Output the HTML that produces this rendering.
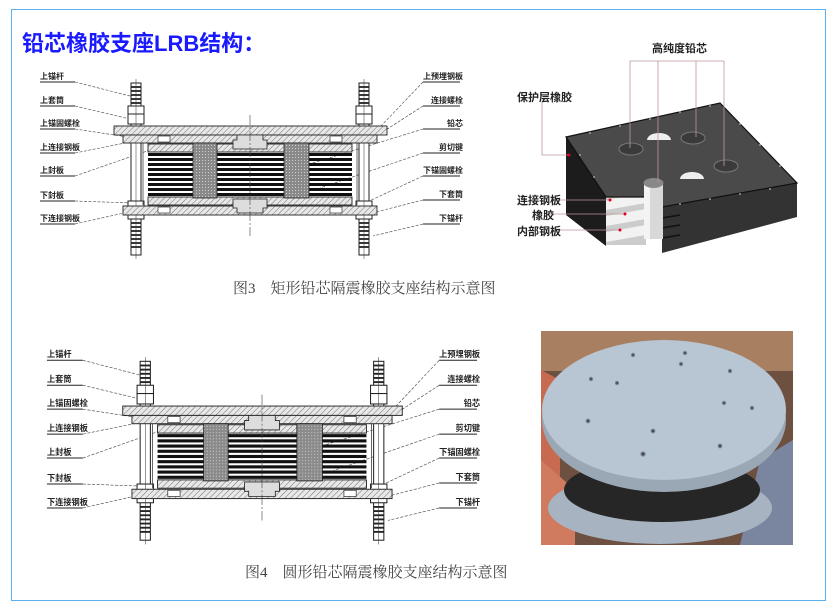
<!DOCTYPE html>
<html><head><meta charset="utf-8"><style>
html,body{margin:0;padding:0;background:#fff;}
svg{display:block;}
text{font-family:"Liberation Sans","Noto Sans CJK SC",sans-serif;}
.lb{font-size:8px;font-weight:bold;fill:#222;}
.cap{font-family:"Liberation Serif","Noto Serif CJK SC",serif;font-size:15px;fill:#444;}
</style></head><body>
<svg width="836" height="613" viewBox="0 0 836 613" xmlns="http://www.w3.org/2000/svg">
<defs>
<pattern id="hat" width="4" height="4" patternUnits="userSpaceOnUse" patternTransform="rotate(45)">
<rect width="4" height="4" fill="#e8e8e8"/><line x1="0" y1="0" x2="0" y2="4" stroke="#555" stroke-width="0.8"/>
</pattern>
<pattern id="dot" width="3" height="3" patternUnits="userSpaceOnUse">
<rect width="3" height="3" fill="#8a8a8a"/><rect x="1" y="1" width="1" height="1" fill="#cfcfcf"/>
</pattern>
<g id="bolt">
<rect x="-5" y="0" width="10" height="172" fill="#fff" stroke="#222" stroke-width="1"/>
<g stroke="#222" stroke-width="1.8">
<line x1="-5" y1="4" x2="5" y2="4"/><line x1="-5" y1="8" x2="5" y2="8"/><line x1="-5" y1="12" x2="5" y2="12"/><line x1="-5" y1="16" x2="5" y2="16"/><line x1="-5" y1="20" x2="5" y2="20"/>
<line x1="-5" y1="140" x2="5" y2="140"/><line x1="-5" y1="144" x2="5" y2="144"/><line x1="-5" y1="148" x2="5" y2="148"/><line x1="-5" y1="152" x2="5" y2="152"/><line x1="-5" y1="156" x2="5" y2="156"/><line x1="-5" y1="160" x2="5" y2="160"/><line x1="-5" y1="164" x2="5" y2="164"/>
</g>
<rect x="-8" y="23" width="16" height="8" fill="#fff" stroke="#222"/>
<rect x="-8" y="31" width="16" height="10" fill="#fff" stroke="#222"/>
<rect x="-8" y="128" width="16" height="8" fill="#fff" stroke="#222"/>
<rect x="-8" y="118" width="16" height="10" fill="#fff" stroke="#222"/>
<line x1="0" y1="-4" x2="0" y2="176" stroke="#333" stroke-width="0.5"/>
</g>
<g id="diag">
<g class="lb">
<text x="40" y="79">上锚杆</text><text x="40" y="103">上套筒</text><text x="40" y="126">上锚固螺栓</text><text x="40" y="150">上连接钢板</text><text x="40" y="173">上封板</text><text x="40" y="198">下封板</text><text x="40" y="221">下连接钢板</text>
<text x="423" y="79">上预埋钢板</text><text x="431" y="103">连接螺栓</text><text x="447" y="126">铅芯</text><text x="439" y="150">剪切键</text><text x="423" y="173">下锚固螺栓</text><text x="439" y="197">下套筒</text><text x="439" y="221">下锚杆</text>
</g>
<g stroke="#222" stroke-width="1">
<line x1="40" y1="82" x2="75" y2="82"/><line x1="40" y1="106" x2="75" y2="106"/><line x1="40" y1="129" x2="75" y2="129"/><line x1="40" y1="153" x2="75" y2="153"/><line x1="40" y1="176" x2="75" y2="176"/><line x1="40" y1="201" x2="75" y2="201"/><line x1="40" y1="224" x2="75" y2="224"/>
<line x1="423" y1="82" x2="460" y2="82"/><line x1="423" y1="106" x2="460" y2="106"/><line x1="423" y1="129" x2="460" y2="129"/><line x1="423" y1="153" x2="460" y2="153"/><line x1="423" y1="176" x2="460" y2="176"/><line x1="423" y1="200" x2="460" y2="200"/><line x1="423" y1="224" x2="460" y2="224"/>
</g>
<g stroke="#444" stroke-width="0.6" stroke-dasharray="3,1.5">
<line x1="75" y1="82" x2="134" y2="97"/><line x1="75" y1="106" x2="130" y2="119"/><line x1="75" y1="129" x2="128" y2="137"/><line x1="75" y1="153" x2="125" y2="143"/><line x1="75" y1="176" x2="150" y2="150"/><line x1="75" y1="201" x2="132" y2="203"/><line x1="75" y1="224" x2="124" y2="213"/>
<line x1="423" y1="82" x2="380" y2="127"/><line x1="423" y1="106" x2="378" y2="135"/><line x1="423" y1="129" x2="300" y2="167"/><line x1="423" y1="153" x2="320" y2="188"/><line x1="423" y1="176" x2="367" y2="202"/><line x1="423" y1="200" x2="372" y2="213"/><line x1="423" y1="224" x2="373" y2="236"/>
</g>
<use href="#bolt" x="136" y="83"/>
<use href="#bolt" x="364" y="83"/>
<line x1="143" y1="143" x2="143" y2="205" stroke="#444" stroke-width="0.8"/>
<line x1="357" y1="143" x2="357" y2="205" stroke="#444" stroke-width="0.8"/>
<g fill="#111">
<rect x="148" y="153" width="204" height="3"/><rect x="148" y="158" width="204" height="3"/><rect x="148" y="163" width="204" height="3"/><rect x="148" y="168" width="204" height="3"/><rect x="148" y="173" width="204" height="3"/><rect x="148" y="178" width="204" height="3"/><rect x="148" y="183" width="204" height="3"/><rect x="148" y="188" width="204" height="3"/><rect x="148" y="193" width="204" height="3"/>
</g>
<rect x="114" y="126" width="273" height="9" fill="url(#hat)" stroke="#222" stroke-width="0.9"/>
<rect x="123" y="135" width="254" height="8" fill="url(#hat)" stroke="#222" stroke-width="0.9"/>
<rect x="148" y="144" width="204" height="8" fill="url(#hat)" stroke="#222" stroke-width="0.9"/>
<rect x="148" y="197" width="204" height="8" fill="url(#hat)" stroke="#222" stroke-width="0.9"/>
<rect x="123" y="206" width="254" height="9" fill="url(#hat)" stroke="#222" stroke-width="0.9"/>
<rect x="193" y="143" width="24" height="55" fill="url(#dot)" stroke="#222" stroke-width="0.8"/>
<rect x="284" y="143" width="25" height="55" fill="url(#dot)" stroke="#222" stroke-width="0.8"/>
<path d="M237 135 H263 V140 H267 V149 H233 V140 H237 Z" fill="#ddd" stroke="#222" stroke-width="0.8"/>
<path d="M233 199 H267 V208 H263 V213 H237 V208 H233 Z" fill="#ddd" stroke="#222" stroke-width="0.8"/>
<g fill="#fff" stroke="#333" stroke-width="0.7">
<rect x="158" y="136" width="12" height="6"/><rect x="330" y="136" width="12" height="6"/><rect x="158" y="207" width="12" height="6"/><rect x="330" y="207" width="12" height="6"/>
</g>
<line x1="250" y1="115" x2="250" y2="236" stroke="#444" stroke-width="0.6" stroke-dasharray="10,2,2,2"/>
</g>
</defs>

<rect x="0" y="0" width="836" height="613" fill="#fff"/>
<rect x="11.5" y="9.5" width="814" height="591" fill="none" stroke="#5ab0ee" stroke-width="1"/>
<text x="22" y="51" style="font-family:'Liberation Sans','Noto Sans CJK SC',sans-serif;font-size:22px;font-weight:bold;fill:#1a1aff;">铅芯橡胶支座LRB结构：</text>

<use href="#diag"/>
<text x="233" y="293" class="cap">图3　矩形铅芯隔震橡胶支座结构示意图</text>

<g transform="translate(6,275) scale(1.024,1.04)"><use href="#diag"/></g>
<text x="245" y="577" class="cap">图4　圆形铅芯隔震橡胶支座结构示意图</text>

<g>
<polygon points="566,137 606,197 606,246 566,215" fill="#1c1c1c"/>
<rect x="606" y="197" width="40" height="48" fill="#ccc"/>
<g fill="#f2f2f2"><polygon points="606,200 646,193 646,203 606,210"/><polygon points="606,216 646,209 646,219 606,226"/><polygon points="606,232 646,225 646,235 606,242"/></g>
<polygon points="662,207 797,183 797,217 662,253" fill="#333"/>
<g stroke="#111" stroke-width="1.5"><line x1="662" y1="218" x2="680" y2="215"/><line x1="662" y1="228" x2="680" y2="225"/><line x1="662" y1="238" x2="680" y2="235"/></g>
<polygon points="566,137 720,103 797,183 662,207 646,197 606,197" fill="#4a4a4a" stroke="#111" stroke-width="1.2"/>
<rect x="644" y="183" width="19" height="56" fill="#d8d8d8"/>
<rect x="644" y="183" width="6" height="56" fill="#f4f4f4"/>
<ellipse cx="653.5" cy="183" rx="10" ry="5" fill="#888"/>
<ellipse cx="631" cy="149" rx="12" ry="6" fill="#3a3a3a" stroke="#777"/>
<ellipse cx="693" cy="138" rx="12" ry="6" fill="#3a3a3a" stroke="#777"/>
<ellipse cx="726" cy="166" rx="12" ry="6" fill="#3a3a3a" stroke="#777"/>
<path d="M647 140 a12 7 0 0 1 24 0 Z" fill="#eee"/>
<path d="M680 179 a12 7 0 0 1 24 0 Z" fill="#eee"/>
<g fill="#bbb"><circle cx="590" cy="133" r="0.9"/><circle cx="620" cy="126" r="0.9"/><circle cx="650" cy="119" r="0.9"/><circle cx="680" cy="112" r="0.9"/><circle cx="710" cy="106" r="0.9"/><circle cx="740" cy="124" r="0.9"/><circle cx="760" cy="145" r="0.9"/><circle cx="780" cy="166" r="0.9"/><circle cx="770" cy="189" r="0.9"/><circle cx="740" cy="194" r="0.9"/><circle cx="710" cy="199" r="0.9"/><circle cx="680" cy="204" r="0.9"/><circle cx="580" cy="155" r="0.9"/><circle cx="594" cy="177" r="0.9"/></g>
<g stroke="#b99" stroke-width="0.8" fill="none">
<polyline points="630,148 630,61 658,61"/><polyline points="658,61 658,182"/><polyline points="696,61 696,137"/><polyline points="724,61 724,166"/><line x1="658" y1="61" x2="724" y2="61"/>
<polyline points="542,101 542,155 569,155"/>
<line x1="556" y1="200" x2="610" y2="200"/><line x1="546" y1="214" x2="625" y2="214"/><line x1="556" y1="230" x2="620" y2="230"/>
</g>
<g fill="#d02"><circle cx="569" cy="155" r="1.5"/><circle cx="610" cy="200" r="1.5"/><circle cx="625" cy="214" r="1.5"/><circle cx="620" cy="230" r="1.5"/></g>
<g style="font-size:11px;font-weight:bold;fill:#222;">
<text x="652" y="52">高纯度铅芯</text><text x="517" y="101">保护层橡胶</text>
<text x="517" y="204">连接钢板</text><text x="532" y="219">橡胶</text><text x="517" y="235">内部钢板</text>
</g>
</g>

<g>
<rect x="541" y="331" width="252" height="214" fill="#6e5040"/>
<rect x="541" y="331" width="252" height="40" fill="#a87f60"/>
<polygon points="541,370 560,380 560,545 541,545" fill="#c86a50"/>
<polygon points="541,460 575,490 575,545 541,545" fill="#d07a60"/>
<polygon points="760,460 793,440 793,545 740,545" fill="#7a86a0"/>
<ellipse cx="660" cy="508" rx="112" ry="36" fill="#a7b3c1"/>
<ellipse cx="662" cy="490" rx="98" ry="32" fill="#262626"/>
<ellipse cx="664" cy="420" rx="122" ry="72" fill="#9aa7b5"/>
<ellipse cx="664" cy="410" rx="122" ry="70" fill="#b8c5d3"/>
<g fill="#444" stroke="#7a8594" stroke-width="1.2"><circle cx="633" cy="355" r="1.6"/><circle cx="685" cy="353" r="1.6"/><circle cx="681" cy="364" r="1.6"/><circle cx="591" cy="379" r="1.6"/><circle cx="617" cy="383" r="1.6"/><circle cx="730" cy="371" r="1.6"/><circle cx="724" cy="403" r="1.6"/><circle cx="752" cy="408" r="1.6"/><circle cx="588" cy="421" r="1.8"/><circle cx="653" cy="431" r="1.8"/><circle cx="720" cy="446" r="1.8"/><circle cx="643" cy="454" r="2"/></g>
</g>
</svg>
</body></html>
